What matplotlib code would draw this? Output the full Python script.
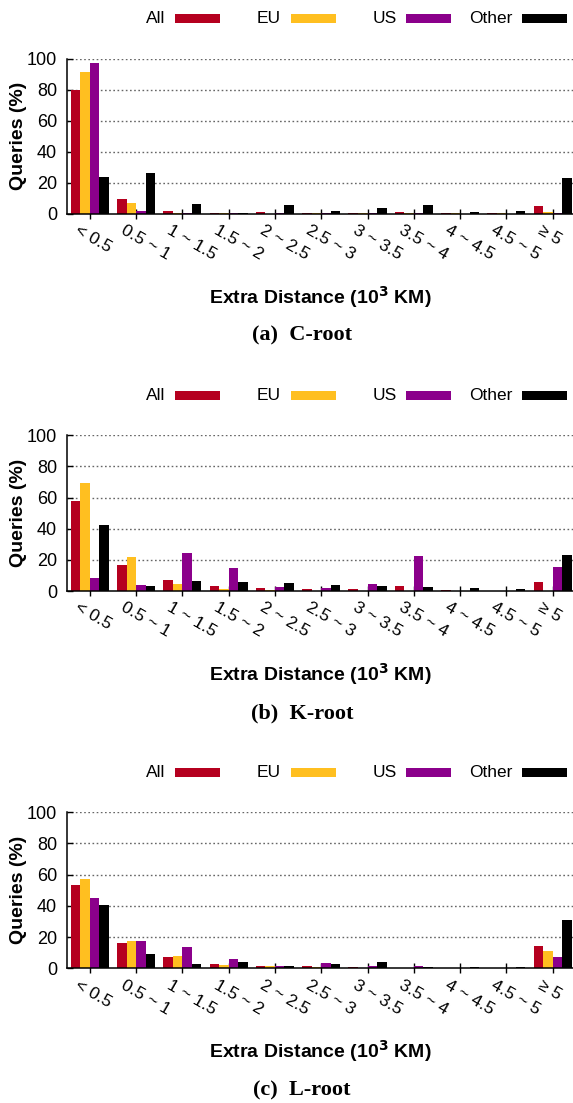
import matplotlib
matplotlib.use('Agg')
import matplotlib.pyplot as plt
import matplotlib.transforms as mtransforms
from matplotlib.patches import Rectangle
import numpy as np

plt.rcParams['font.family'] = ['Liberation Sans', 'DejaVu Sans']

bins = ['< 0.5', '0.5 ~ 1', '1 ~ 1.5', '1.5 ~ 2', '2 ~ 2.5', '2.5 ~ 3',
        '3 ~ 3.5', '3.5 ~ 4', '4 ~ 4.5', '4.5 ~ 5', '≥ 5']
series = ['All', 'EU', 'US', 'Other']
colors = ['#b5001f', '#ffbf20', '#8b008b', '#000000']
captions = ['(a)  C-root', '(b)  K-root', '(c)  L-root']
yticks = [0, 20, 40, 60, 80, 100]

# percent of queries per extra-distance bin
c_all = [80.0, 9.5, 1.7, 0.2, 1.1, 0.4, 0.4, 1.1, 0.2, 0.4, 5.2]
c_eu = [91.4, 6.9, 0.4, 0.2, 0.1, 0.2, 0.2, 0.3, 0.2, 0.2, 1.1]
c_us = [97.2, 1.7, 0.4, 0.2, 0.2, 0.2, 0.2, 0.2, 0.1, 0.1, 0.2]
c_other = [23.7, 26.2, 6.2, 0.4, 5.6, 1.7, 3.7, 5.6, 1.1, 1.7, 23.0]

k_all = [58.0, 16.9, 7.1, 3.2, 1.9, 1.3, 1.3, 3.2, 0.6, 0.1, 5.8]
k_eu = [69.4, 21.8, 4.5, 1.3, 0.6, 0.2, 0.2, 0.0, 0.0, 0.0, 0.0]
k_us = [8.4, 4.1, 24.4, 14.8, 2.6, 1.9, 4.5, 22.5, 0.0, 0.0, 15.4]
k_other = [42.4, 3.2, 6.4, 5.8, 5.1, 3.9, 3.2, 2.6, 1.9, 1.3, 23.1]

l_all = [53.4, 16.2, 7.3, 2.8, 1.5, 1.5, 0.9, 0.0, 0.0, 0.0, 14.3]
l_eu = [57.3, 17.5, 7.9, 2.1, 1.5, 0.9, 0.0, 0.0, 0.0, 0.0, 11.1]
l_us = [45.1, 17.5, 13.7, 6.0, 1.5, 3.4, 1.5, 1.5, 0.0, 0.0, 7.3]
l_other = [40.6, 9.2, 2.8, 4.1, 1.5, 2.8, 4.1, 0.9, 0.9, 0.9, 31.0]

panels = [[c_all, c_eu, c_us, c_other],
          [k_all, k_eu, k_us, k_other],
          [l_all, l_eu, l_us, l_other]]

W, H = 573, 1103
fig = plt.figure(figsize=(W / 100, H / 100), dpi=100)

# axes bottom (y=0 line) and top (y=100 line) in pixels from the top
ax_rows = [(213.7, 58.7), (591.0, 435.3), (968.3, 812.3)]
left_px = 66.7
bar_w = 0.206
x = np.arange(len(bins))

for (bot, top), data, cap in zip(ax_rows, panels, captions):
    ax = fig.add_axes([left_px / W, 1 - bot / H, 1 - left_px / W, (bot - top) / H])
    for j, (vals, col) in enumerate(zip(data, colors)):
        ax.bar(x + (j - 1.5) * bar_w, vals, width=bar_w, color=col, linewidth=0, zorder=3)
    ax.set_xlim(-0.5, 10.44)
    ax.set_ylim(0, 100)
    ax.set_yticks(yticks)
    ax.set_yticklabels([str(v) for v in yticks], fontsize=13)
    ax.set_xticks(x)
    ax.set_xticklabels([])
    # rotated bin labels, starting a little left of each tick
    lab_tr = ax.get_xaxis_transform() + mtransforms.ScaledTranslation(-0.10, -0.09, fig.dpi_scale_trans)
    for xi, lab in zip(x, bins):
        ax.text(xi, 0, lab, transform=lab_tr, fontsize=12.5, rotation=-30,
                ha='left', va='top', rotation_mode='anchor')
    ax.tick_params(axis='x', direction='inout', length=7, width=1, pad=0)
    ax.tick_params(axis='y', direction='in', length=4, width=1, pad=7)
    for ty in yticks[1:]:
        ax.axhline(ty, color='0.4', linewidth=1.0, linestyle=(0, (1.2, 1.8)), zorder=1)
    ax.spines['top'].set_visible(False)
    ax.spines['right'].set_visible(False)
    ax.spines['left'].set_linewidth(1.1)
    ax.spines['bottom'].set_linewidth(1.1)
    ax.spines['bottom'].set_zorder(4)
    ax.set_ylabel('Queries (%)', fontsize=14, fontweight='bold', va='center')
    ax.yaxis.set_label_coords((19 - left_px) / (W - left_px), 0.5)

    fig.text(320 / W, 1 - (bot + 83) / H, 'Extra Distance (10$^{\\mathbf{3}}$ KM)',
             fontsize=14, fontweight='bold', ha='center', va='center')
    fig.text(302 / W, 1 - (bot + 122) / H, cap, fontsize=16, fontweight='bold',
             family='Liberation Serif', ha='center', va='center')

    # legend row above the plot, text right-aligned before each colour box
    ly = top - 40
    for k, (name, col) in enumerate(zip(series, colors)):
        bx = 175 + k * 115.7
        fig.text((bx - 10) / W, 1 - ly / H, name, fontsize=12.5, ha='right', va='center')
        fig.patches.append(Rectangle((bx / W, 1 - (ly + 4.5) / H), 45 / W, 9 / H,
                                     facecolor=col, edgecolor='none',
                                     transform=fig.transFigure, figure=fig))

fig.savefig('out.png', dpi=100)
